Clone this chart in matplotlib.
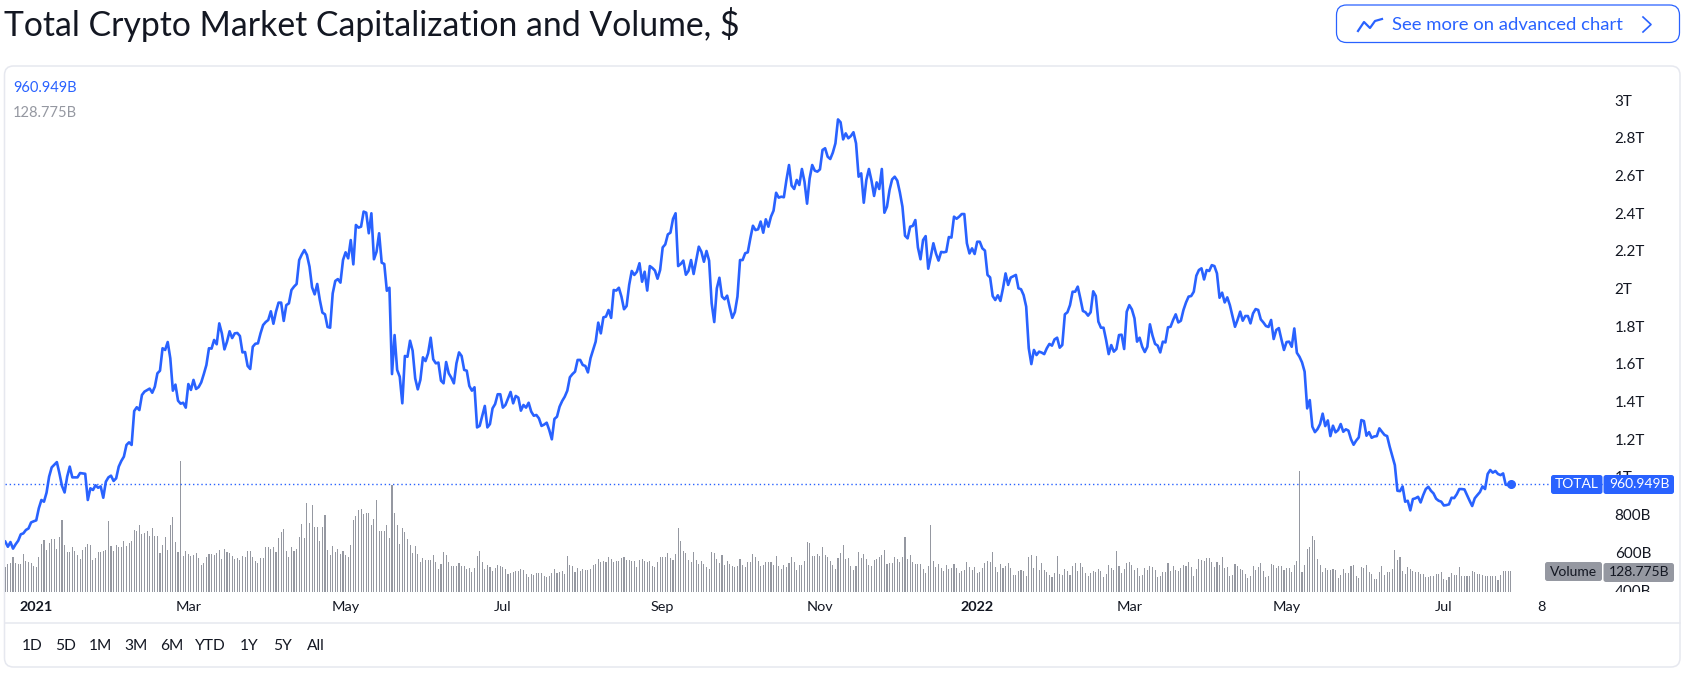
import matplotlib
matplotlib.use("Agg")
import matplotlib.pyplot as plt
import matplotlib.dates as mdates
from matplotlib.patches import FancyBboxPatch
import pandas as pd

START_DATE = "2020-12-20"
cap_trillions = [
 .657,.630,.655,.620,.643,.662,.696,.701,.719,.727,
 .759,.765,.770,.834,.878,.869,.917,1.002,1.051,1.065,
 1.079,1.019,.952,.918,1.002,1.055,.998,.998,.998,1.021,
 1.019,1.017,.878,.940,.931,.956,.943,.950,.890,.975,
 .998,1.007,.979,.993,1.055,1.085,1.108,1.170,1.184,1.170,
 1.350,1.370,1.355,1.435,1.453,1.461,1.469,1.447,1.479,1.550,
 1.564,1.683,1.674,1.716,1.630,1.458,1.490,1.405,1.389,1.394,
 1.368,1.493,1.462,1.515,1.467,1.477,1.502,1.546,1.594,1.683,
 1.681,1.727,1.704,1.815,1.762,1.677,1.718,1.773,1.737,1.762,
 1.764,1.748,1.661,1.663,1.589,1.573,1.691,1.707,1.709,1.762,
 1.806,1.822,1.833,1.879,1.813,1.877,1.925,1.925,1.828,1.912,
 1.921,1.992,2.010,2.024,2.151,2.180,2.204,2.178,2.116,2.006,
 1.969,2.024,1.939,1.872,1.863,1.796,1.792,1.974,2.040,2.050,
 2.031,2.151,2.192,2.160,2.257,2.128,2.337,2.323,2.328,2.408,
 2.402,2.293,2.399,2.155,2.195,2.293,2.137,2.130,1.988,2.004,
 1.546,1.753,1.568,1.532,1.391,1.642,1.638,1.723,1.670,1.523,
 1.465,1.515,1.635,1.615,1.656,1.739,1.624,1.603,1.607,1.511,
 1.497,1.610,1.550,1.527,1.497,1.603,1.661,1.642,1.568,1.564,
 1.483,1.458,1.476,1.263,1.271,1.325,1.377,1.263,1.281,1.364,
 1.387,1.439,1.439,1.368,1.382,1.417,1.451,1.391,1.430,1.421,
 1.352,1.382,1.368,1.394,1.347,1.325,1.329,1.311,1.271,1.278,
 1.288,1.249,1.200,1.308,1.320,1.373,1.403,1.426,1.458,1.529,
 1.546,1.559,1.621,1.621,1.594,1.589,1.555,1.630,1.674,1.718,
 1.819,1.762,1.847,1.851,1.886,1.844,1.992,1.989,2.004,1.957,
 1.890,1.907,2.019,2.093,2.072,2.089,2.134,2.036,2.089,1.989,
 2.119,2.109,2.095,2.052,2.098,2.218,2.234,2.287,2.296,2.369,
 2.399,2.119,2.130,2.148,2.073,2.093,2.151,2.077,2.151,2.222,
 2.195,2.142,2.199,2.148,1.921,1.822,2.001,2.057,1.957,1.943,
 1.962,1.900,1.844,1.875,1.957,2.151,2.151,2.187,2.192,2.266,
 2.333,2.310,2.314,2.355,2.296,2.367,2.328,2.381,2.413,2.508,
 2.482,2.487,2.484,2.576,2.655,2.546,2.528,2.576,2.549,2.634,
 2.567,2.450,2.584,2.655,2.625,2.620,2.632,2.735,2.744,2.699,
 2.687,2.721,2.770,2.897,2.882,2.791,2.823,2.797,2.809,2.829,
 2.770,2.593,2.611,2.455,2.576,2.634,2.572,2.491,2.563,2.528,
 2.634,2.402,2.434,2.523,2.579,2.593,2.572,2.510,2.434,2.280,
 2.266,2.328,2.332,2.363,2.218,2.155,2.257,2.278,2.105,2.170,
 2.240,2.186,2.148,2.194,2.192,2.195,2.273,2.270,2.381,2.370,
 2.381,2.395,2.395,2.240,2.186,2.213,2.183,2.248,2.248,2.213,
 2.201,2.072,2.059,1.960,1.939,1.964,1.934,2.001,2.080,2.019,
 2.058,2.065,2.072,2.001,1.996,1.965,1.904,1.683,1.599,1.674,
 1.647,1.665,1.660,1.652,1.683,1.706,1.697,1.730,1.739,1.686,
 1.700,1.863,1.874,1.912,1.983,1.983,2.010,1.948,1.881,1.874,
 1.856,1.874,1.985,1.960,1.824,1.792,1.792,1.727,1.652,1.700,
 1.665,1.679,1.753,1.755,1.679,1.877,1.912,1.889,1.842,1.718,
 1.739,1.691,1.663,1.691,1.810,1.750,1.706,1.697,1.661,1.718,
 1.714,1.794,1.797,1.833,1.863,1.820,1.829,1.886,1.926,1.957,
 1.960,1.983,2.068,2.098,2.107,2.048,2.098,2.093,2.124,2.119,
 2.080,1.951,1.978,1.926,1.953,1.912,1.855,1.797,1.834,1.877,
 1.829,1.854,1.854,1.815,1.868,1.891,1.886,1.836,1.820,1.801,
 1.796,1.833,1.732,1.780,1.790,1.730,1.674,1.716,1.718,1.691,
 1.788,1.659,1.638,1.608,1.559,1.364,1.408,1.267,1.238,1.254,
 1.281,1.336,1.270,1.300,1.217,1.272,1.237,1.249,1.281,1.240,
 1.253,1.246,1.200,1.171,1.193,1.210,1.302,1.297,1.219,1.238,
 1.208,1.215,1.217,1.258,1.240,1.223,1.217,1.161,1.111,1.063,
 .927,.925,.950,.869,.874,.823,.883,.887,.895,.865,
 .904,.936,.948,.927,.913,.885,.874,.869,.849,.851,
 .855,.890,.888,.908,.936,.936,.934,.904,.874,.846,
 .887,.904,.920,.950,.936,1.016,1.037,1.023,1.032,1.016,
 1.010,1.019,.959,.957,.961,
]
volume_billions = [
 154,172,179,216,179,172,172,235,191,185,
 179,160,154,216,297,322,260,303,328,328,
 266,341,447,291,247,247,278,253,228,204,
 260,278,297,291,197,210,247,247,253,260,
 440,285,253,291,278,278,316,285,303,316,
 384,378,415,359,366,378,347,397,347,347,
 241,291,341,260,415,465,309,247,814,222,
 253,235,222,228,241,210,166,179,216,235,
 235,228,241,260,204,266,247,241,222,204,
 210,197,222,216,253,253,216,191,179,210,
 210,278,278,266,278,247,334,372,390,253,
 216,278,253,266,341,422,334,552,428,540,
 403,403,316,403,478,260,228,285,247,266,
 235,253,228,216,291,447,471,509,515,484,
 490,490,415,453,571,378,378,378,415,334,
 665,490,415,297,397,372,328,291,241,285,
 235,185,210,197,197,197,228,185,141,172,
 247,228,185,160,160,160,179,160,160,141,
 147,123,147,222,253,185,141,166,154,129,
 147,166,160,154,141,110,116,123,129,129,
 141,135,110,91,110,104,116,116,116,98,
 91,98,116,141,116,123,129,110,222,166,
 160,123,147,129,141,135,135,141,166,172,
 204,185,191,185,216,204,185,191,191,210,
 216,197,197,191,191,154,197,204,191,185,
 191,160,154,185,216,216,216,241,210,197,
 235,397,316,253,241,197,185,247,197,172,
 191,172,154,141,247,241,204,179,228,166,
 191,172,160,154,160,204,166,154,185,185,
 235,216,191,160,166,185,185,185,166,222,
 160,141,166,154,179,216,185,135,166,166,
 191,309,303,222,222,235,222,278,228,216,
 191,166,141,210,241,291,204,210,160,135,
 160,247,210,235,204,166,160,197,204,216,
 228,260,172,179,179,216,204,185,216,341,
 204,228,185,172,172,172,141,116,160,415,
 191,154,172,147,129,166,141,147,172,147,
 116,129,135,185,154,135,154,116,123,147,
 179,191,185,247,154,123,172,147,160,179,
 147,104,104,129,135,129,98,216,228,147,
 222,135,
 179,135,123,104,91,116,222,110,104,141,
 129,104,160,179,129,179,154,116,98,116,
 129,123,141,129,91,110,166,147,135,253,
 160,116,141,179,185,166,135,147,98,104,
 147,135,160,154,135,91,98,123,123,179,
 129,160,135,129,147,166,160,185,154,98,
 141,204,197,191,210,210,185,154,185,166,
 216,147,154,98,104,172,160,141,135,110,
 85,98,160,135,154,179,129,91,98,172,
 166,147,160,160,135,147,147,123,166,191,
 752,123,166,266,278,347,322,204,166,123,
 147,135,135,141,135,85,104,141,116,116,
 160,166,98,85,154,147,166,123,110,79,
 79,123,160,104,123,123,141,260,197,216,
 129,110,154,141,129,123,123,110,110,91,
 91,98,98,110,110,123,79,73,91,116,
 104,104,154,98,98,98,98,129,123,110,
 110,104,98,98,98,98,98,73,104,129,
 129,129,129,
]
assert len(cap_trillions) == 585 and len(volume_billions) == 585, (len(cap_trillions), len(volume_billions))

price_ticks = [0.4, 0.6, 0.8, 1.0, 1.2, 1.4, 1.6, 1.8, 2.0, 2.2, 2.4, 2.6, 2.8, 3.0]
price_tick_labels = ["400B", "600B", "800B", "1T", "1.2T", "1.4T", "1.6T", "1.8T", "2T", "2.2T", "2.4T", "2.6T", "2.8T", "3T"]
time_ticks = ["2021-01-01", "2021-03-01", "2021-05-01", "2021-07-01", "2021-09-01", "2021-11-01",
              "2022-01-01", "2022-03-01", "2022-05-01", "2022-07-01", "2022-08-08"]
time_tick_labels = ["2021", "Mar", "May", "Jul", "Sep", "Nov", "2022", "Mar", "May", "Jul", "8"]
range_labels = ["1D", "5D", "1M", "3M", "6M", "YTD", "1Y", "5Y", "All"]
last_cap_label = "960.949B"
last_volume_label = "128.775B"

BLUE = "#2962FF"
GREY = "#9598A1"
INK = "#131722"
BORDER = "#E6E8EF"
plt.rcParams["font.family"] = ["Lato", "DejaVu Sans"]

W, H = 1686, 674
fig = plt.figure(figsize=(W / 100, H / 100), dpi=100, facecolor="white")


def rect_px(x0, y0, x1, y1):
    return [x0 / W, 1 - y1 / H, (x1 - x0) / W, (y1 - y0) / H]


# background furniture in pixel space
bg = fig.add_axes([0, 0, 1, 1], zorder=0)
bg.set_xlim(0, W); bg.set_ylim(H, 0); bg.axis("off")
bg.add_patch(FancyBboxPatch((4.5, 66), 1675.5, 601, boxstyle="round,pad=0,rounding_size=9",
                            fc="white", ec=BORDER, lw=1.1))
bg.plot([4.5, 1680], [623, 623], color=BORDER, lw=1.1)
bg.add_patch(FancyBboxPatch((1336.5, 5), 343, 37.5, boxstyle="round,pad=0,rounding_size=10",
                            fc="white", ec=BLUE, lw=0.9))
bg.plot([1358, 1364, 1370, 1375, 1382], [31, 22, 28, 21, 19], color=BLUE, lw=1.6)
bg.plot([1643, 1651, 1643], [17, 24.5, 32], color=BLUE, lw=1.2)
bg.text(1392.5, 24.5, "See more on advanced chart", color=BLUE, fontsize=13.3, va="center", ha="left")
bg.text(4, 25, "Total Crypto Market Capitalization and Volume, $", color=INK, fontsize=24.3, va="center", ha="left")

dates = pd.date_range(START_DATE, periods=len(cap_trillions))
x0 = mdates.date2num(dates[0])
xlim = (x0 + (5 - 5.3) / 2.578, x0 + (1680 - 5.3) / 2.578)

# volume pane
ax_vol = fig.add_axes(rect_px(5, 66, 1680, 591.7), zorder=1)
ax_vol.patch.set_alpha(0)
ax_vol.bar(dates, volume_billions, width=0.42, color=GREY, linewidth=0)
ax_vol.set_xlim(xlim)
ax_vol.set_ylim(0, (591.7 - 66) * 6.231)
ax_vol.axis("off")

# price pane: y pixel = 100 + (3 - v) * 188.5
ax = fig.add_axes(rect_px(5, 66, 1680, 591.7), zorder=2)
ax.patch.set_alpha(0)
ax.plot(dates, cap_trillions, color=BLUE, lw=1.9, solid_joinstyle="round")
ax.plot(dates[-1], cap_trillions[-1], "o", color=BLUE, ms=5.5)
ax.plot([dates[0], pd.Timestamp("2022-09-05")], [cap_trillions[-1]] * 2, color=BLUE, lw=1, ls=(0, (1, 2)))
ax.set_xlim(xlim)
ax.set_ylim(3 - (591.7 - 100) / 188.5, 3 + (100 - 66) / 188.5)
for s in ax.spines.values():
    s.set_visible(False)
ax.yaxis.tick_right()
ax.set_yticks(price_ticks, price_tick_labels)
ax.set_xticks(pd.to_datetime(time_ticks), time_tick_labels)
ax.tick_params(axis="y", length=0, pad=-47, labelsize=11, labelcolor=INK)
ax.tick_params(axis="x", length=0, pad=7, labelsize=10.4, labelcolor=INK)
for lab in ax.get_yticklabels():
    lab.set_ha("left")
    lab.set_clip_on(True)
    lab.set_clip_box(ax.bbox)
for lab in ax.get_xticklabels():
    if lab.get_text() in ("2021", "2022"):
        lab.set_fontweight("bold")

# foreground tags and texts in pixel space
fg = fig.add_axes([0, 0, 1, 1], zorder=3)
fg.set_xlim(0, W); fg.set_ylim(H, 0); fg.axis("off"); fg.patch.set_alpha(0)
fg.text(13, 88, last_cap_label, color=BLUE, fontsize=10.5, va="center")
fg.text(13, 113, last_volume_label, color=GREY, fontsize=10.5, va="center")
for cx, t in zip([32, 66, 100.5, 136, 171.5, 210, 249.5, 283, 316], range_labels):
    fg.text(cx, 645.5, t, color=INK, fontsize=11.2, ha="center", va="center")


def tag(x0_, y0_, x1_, y1_, col, text, cx):
    fg.add_patch(FancyBboxPatch((x0_, y0_), x1_ - x0_, y1_ - y0_, boxstyle="round,pad=0,rounding_size=2.5",
                                fc=col, ec="none"))
    fg.text(cx, (y0_ + y1_) / 2, text, color="white" if col == BLUE else INK, fontsize=10, ha="center", va="center")


tag(1551, 475, 1602.5, 494, BLUE, "TOTAL", 1576.5)
tag(1603.5, 475, 1674, 494, BLUE, last_cap_label, 1639)
tag(1545, 562, 1602, 581, GREY, "Volume", 1573.5)
tag(1603.5, 563, 1674, 582, GREY, last_volume_label, 1639)

fig.savefig("out.png", dpi=100, facecolor="white")
